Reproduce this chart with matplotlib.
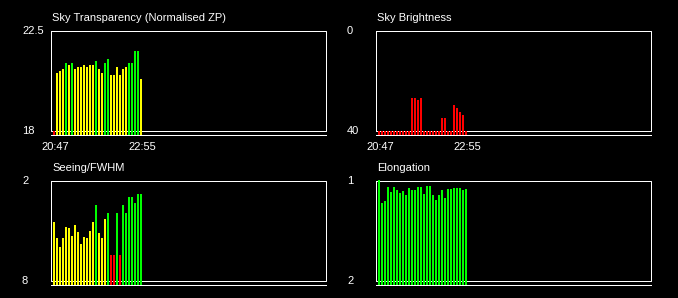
import matplotlib
matplotlib.use("Agg")
import matplotlib.pyplot as plt
from matplotlib.lines import Line2D

plt.rcParams['font.family'] = ['Liberation Sans', 'DejaVu Sans']

# ---------------- data ----------------
tick_labels = ["20:47", "22:55"]
tick_index = [0, 29]

transparency = [18.0, 20.61, 20.66, 20.75, 21.02, 20.97, 21.06, 20.79, 20.88, 20.84,
                20.93, 20.88, 20.93, 20.97, 21.11, 20.75, 20.61, 21.06, 21.20, 20.48,
                20.52, 20.88, 20.48, 20.75, 20.84, 21.02, 21.02, 21.56, 21.56, 20.30]
transparency_flags = list("RYYYGYGYYYYYYYGYYGGYYYYYYGGGGY")

brightness = [40, 40, 40, 40, 40, 40, 40, 40, 40, 40,
              40, 27.0, 27.0, 27.7, 27.0, 40, 40, 40, 40, 40,
              40, 35.0, 35.0, 40, 40, 29.8, 30.9, 32.5, 33.7, 40]
brightness_flags = list("R" * 30)

seeing = [4.49, 5.45, 5.99, 5.45, 4.79, 4.85, 5.33, 4.67, 5.09, 5.81,
          5.39, 5.45, 5.03, 4.49, 3.47, 5.15, 5.45, 4.31, 3.95, 6.47,
          6.47, 3.95, 6.47, 3.47, 3.95, 2.99, 2.99, 3.35, 2.81, 2.81]
seeing_flags = list("YYYYYYYYYYYYYYGYYYGRRGRGGGGGGG")

elongation = [0.99, 1.22, 1.20, 1.06, 1.11, 1.06, 1.09, 1.12, 1.10, 1.14,
              1.07, 1.09, 1.09, 1.06, 1.06, 1.13, 1.05, 1.05, 1.14, 1.19,
              1.14, 1.09, 1.17, 1.08, 1.08, 1.07, 1.07, 1.07, 1.09, 1.08]
elongation_flags = list("G" * 30)

flag_colors = {"R": "#ff0000", "Y": "#ffff00", "G": "#00ff00"}

panels = [
    # title, values, flags, top label, bottom label, value at top, value at bottom, show x ticks
    ("Sky Transparency (Normalised ZP)", transparency, transparency_flags, "22.5", "18", 22.5, 18.0, True),
    ("Sky Brightness", brightness, brightness_flags, "0", "40", 0.0, 40.0, True),
    ("Seeing/FWHM", seeing, seeing_flags, "2", "8", 2.0, 8.0, False),
    ("Elongation", elongation, elongation_flags, "1", "2", 1.0, 2.0, False),
]

# ---------------- layout (pixels) ----------------
W, H = 678, 298
fig = plt.figure(figsize=(W / 100, H / 100), dpi=100, facecolor="black")

def fx(px):
    return px / W

def fy(py):
    return 1 - py / H

FS = 8
LW = 0.72  # 1 px

for k, (title, vals, flags, lab_top, lab_bot, v_top, v_bot, show_x) in enumerate(panels):
    ox = 0 if k % 2 == 0 else 325
    oy = 0 if k < 2 else 150
    ax_l, ax_r = 50 + ox, 326 + ox
    ax_t, ax_b = 30 + oy, 135 + oy
    ax = fig.add_axes([fx(ax_l), fy(ax_b), fx(ax_r - ax_l), (ax_b - ax_t) / H])
    ax.set_facecolor("black")
    for s in ax.spines.values():
        s.set_visible(False)
    ax.set_xticks([])
    ax.set_yticks([])

    # value scale: box top line at px ax_t+0.5, box bottom at ax_t+100.5
    k_per_px = (v_bot - v_top) / 100.0
    def val(p):
        return v_top + (p - (ax_t + 0.5)) * k_per_px
    y_low = val(ax_b)
    y_high = val(ax_t)
    ax.set_ylim(y_low, y_high)
    # x scale: bar i centred at px 54 + 3i (relative)
    x0 = ax_l - ox
    ax.set_xlim((x0 - 54) / 3.0, (326 - 54) / 3.0)

    xs = list(range(len(vals)))
    heights = [v - y_low for v in vals]
    ax.bar(xs, heights, bottom=y_low, width=2 / 3.0,
           color=[flag_colors[f] for f in flags], linewidth=0, zorder=3,
           clip_on=False)

    # frame box and base line
    tr = ax.transAxes
    hpx = ax_b - ax_t
    def ay(p):
        return 1 - (p - ax_t) / hpx
    xl, xr = 0.5 / 276, 275.5 / 276
    ax.add_line(Line2D([xl, xr, xr, xl, xl],
                       [ay(ax_t + 0.5), ay(ax_t + 0.5), ay(ax_t + 100.5), ay(ax_t + 100.5), ay(ax_t + 0.5)],
                       transform=tr, color="white", lw=LW, zorder=2, clip_on=False))
    ax.add_line(Line2D([xl, xr], [ay(ax_t + 104.5), ay(ax_t + 104.5)],
                       transform=tr, color="white", lw=LW, zorder=2, clip_on=False))

    # title
    fig.text(fx(52 + ox), fy(21 + oy), title, color="white", fontsize=FS,
             ha="left", va="baseline")
    # y labels
    fig.text(fx(22 + ox), fy(33.5 + oy), lab_top, color="white", fontsize=FS,
             ha="left", va="baseline")
    fig.text(fx(22 + ox), fy(133.5 + oy), lab_bot, color="white", fontsize=FS,
             ha="left", va="baseline")
    # x labels
    if show_x:
        for idx, lab in zip(tick_index, tick_labels):
            xd = ax.transData.transform((idx, 0))[0]
            xfig = fig.transFigure.inverted().transform((xd, 0))[0]
            fig.text(xfig + fx(1), fy(149.5 + oy), lab, color="white", fontsize=FS,
                     ha="center", va="baseline")

fig.savefig("out.png", dpi=100, facecolor="black")
